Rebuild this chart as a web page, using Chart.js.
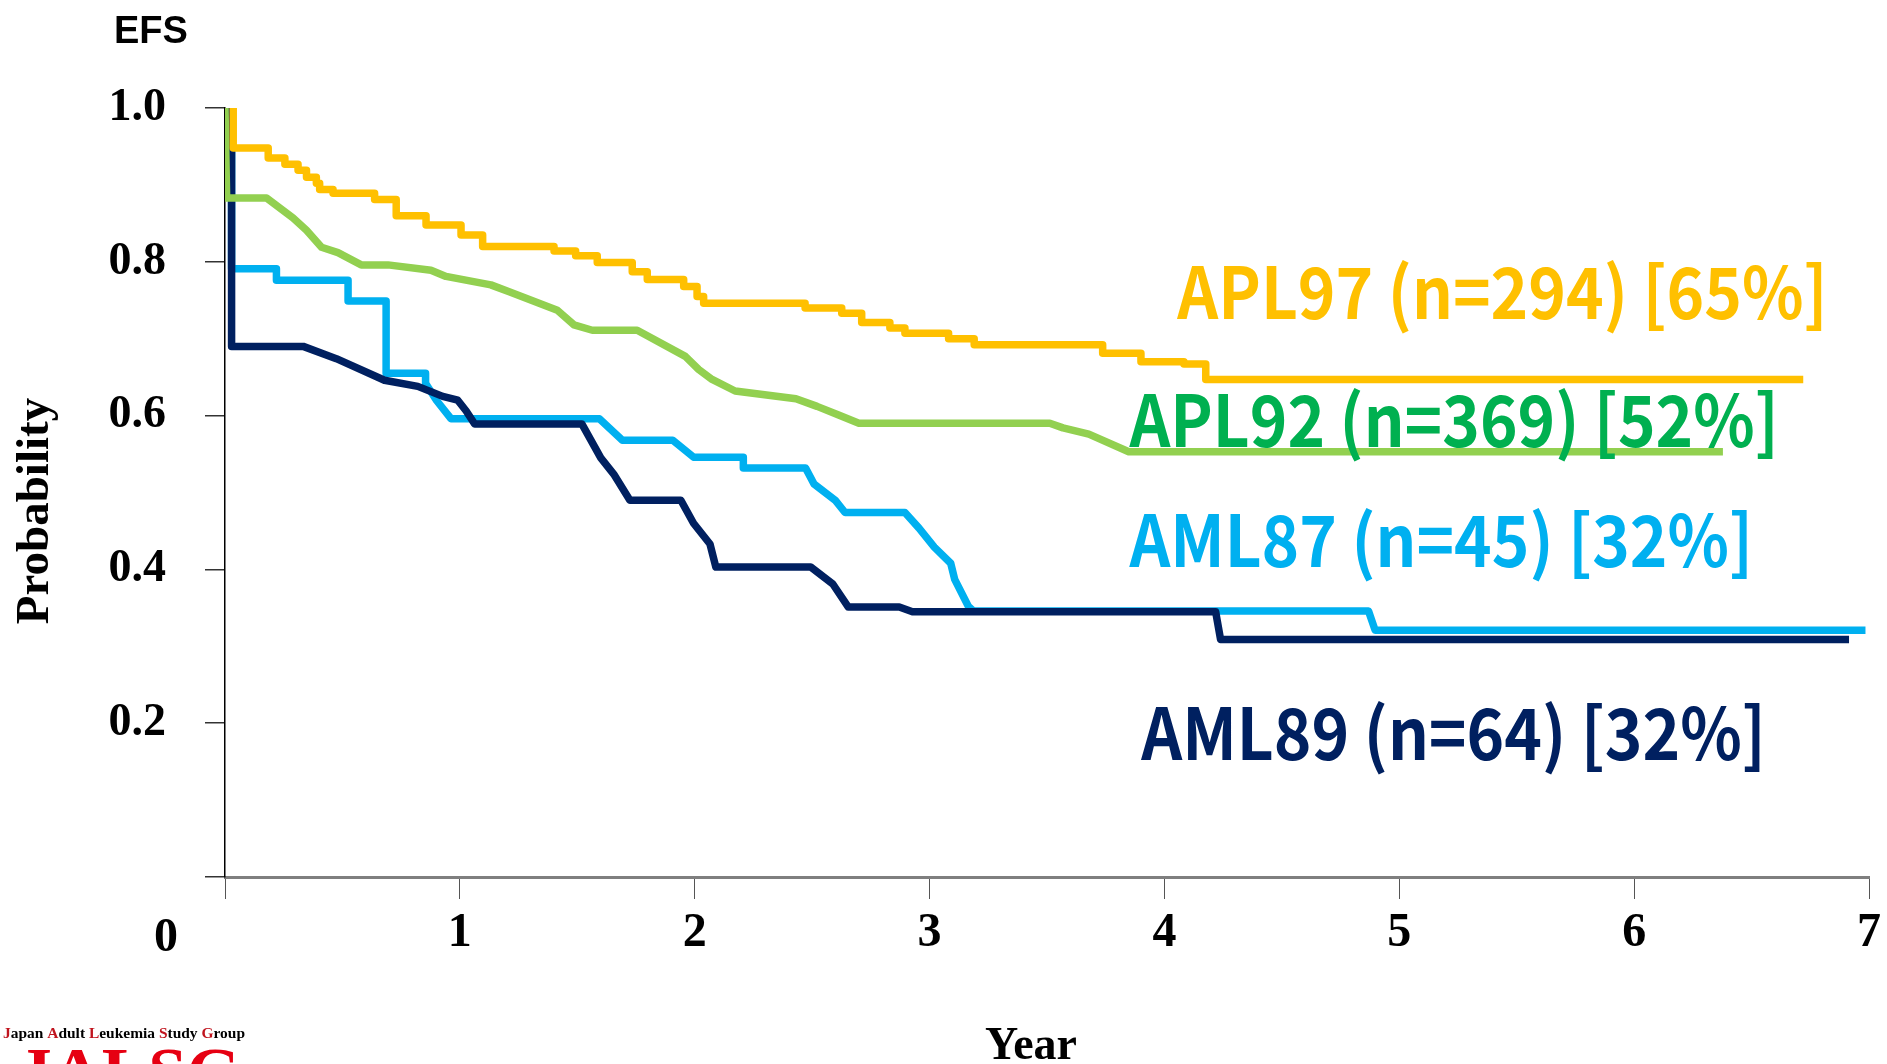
<!DOCTYPE html>
<html>
<head>
<meta charset="utf-8">
<script src="https://cdn.jsdelivr.net/npm/chart.js@4.4.1/dist/chart.umd.min.js"></script>
<style>
html,body{margin:0;padding:0;background:#fff;overflow:hidden}
#wrap{width:1887px;height:1064px;position:relative}
canvas{display:block}
</style>
</head>
<body>
<div id="wrap"><canvas id="c" width="1887" height="1064"></canvas></div>
<script>
// ---------- DATA ----------
const xTickValues = [0, 1, 2, 3, 4, 5, 6, 7];
const yTickValues = [0, 0.2, 0.4, 0.6, 0.8, 1.0];

const seriesNames = ['APL97', 'APL92', 'AML89', 'AML87'];
const seriesLabels = ['APL97 (n=294) [65%]', 'APL92 (n=369) [52%]', 'AML87 (n=45) [32%]', 'AML89 (n=64) [32%]'];

// APL97 (step function: value changes at each time)
const apl97Times  = [0.035, 0.035, 0.184, 0.255, 0.311, 0.347, 0.389, 0.403, 0.460, 0.637, 0.729, 0.856, 1.005, 1.097, 1.401, 1.493, 1.585, 1.734, 1.798, 1.953, 2.010, 2.038, 2.470, 2.626, 2.711, 2.831, 2.895, 3.081, 3.190, 3.737, 3.900, 4.083, 4.176, 4.508, 6.720];
const apl97Values = [1.000, 0.954, 0.948, 0.935, 0.927, 0.919, 0.910, 0.902, 0.894, 0.889, 0.881, 0.860, 0.848, 0.835, 0.820, 0.814, 0.808, 0.799, 0.787, 0.777, 0.768, 0.755, 0.746, 0.740, 0.733, 0.721, 0.714, 0.707, 0.700, 0.692, 0.681, 0.670, 0.667, 0.647, 0.647];

// APL92
const apl92Times  = [0, 0.007, 0.177, 0.290, 0.347, 0.411, 0.481, 0.580, 0.694, 0.877, 0.941, 1.132, 1.210, 1.415, 1.486, 1.564, 1.755, 1.960, 2.017, 2.074, 2.172, 2.431, 2.521, 2.610, 2.699, 3.512, 3.568, 3.678, 3.848, 6.378];
const apl92Values = [1.000, 0.883, 0.883, 0.857, 0.841, 0.819, 0.812, 0.796, 0.796, 0.789, 0.781, 0.770, 0.761, 0.737, 0.718, 0.711, 0.711, 0.677, 0.660, 0.647, 0.632, 0.622, 0.612, 0.601, 0.590, 0.590, 0.584, 0.576, 0.553, 0.553];

// AML89
const aml89Times  = [0.028, 0.028, 0.333, 0.474, 0.679, 0.821, 0.927, 0.991, 1.027, 1.063, 1.520, 1.600, 1.655, 1.724, 1.941, 1.995, 2.065, 2.090, 2.494, 2.588, 2.654, 2.871, 2.927, 4.218, 4.239, 6.915];
const aml89Values = [1.000, 0.690, 0.690, 0.674, 0.646, 0.638, 0.625, 0.620, 0.606, 0.589, 0.589, 0.545, 0.524, 0.490, 0.490, 0.460, 0.433, 0.403, 0.403, 0.381, 0.351, 0.351, 0.345, 0.345, 0.309, 0.309];

// AML87
const aml87Times  = [0.028, 0.028, 0.219, 0.219, 0.524, 0.524, 0.686, 0.686, 0.854, 0.854, 0.900, 0.962, 1.594, 1.692, 1.906, 1.995, 2.207, 2.207, 2.472, 2.508, 2.598, 2.640, 2.895, 2.954, 3.020, 3.090, 3.107, 3.165, 3.187, 4.869, 4.897, 6.985];
const aml87Values = [1.000, 0.791, 0.791, 0.776, 0.776, 0.749, 0.749, 0.655, 0.655, 0.642, 0.620, 0.596, 0.596, 0.568, 0.568, 0.546, 0.546, 0.532, 0.532, 0.511, 0.490, 0.474, 0.474, 0.454, 0.429, 0.408, 0.387, 0.352, 0.346, 0.346, 0.321, 0.321];

// ---------- STYLE / LAYOUT ----------
const colors = { APL97: '#FFC000', APL92: '#92D050', AML89: '#002060', AML87: '#00B0F0' };
const labelColors = ['#FFC000', '#00B050', '#00B0F0', '#002060'];
const serif = '"Liberation Serif", "Times New Roman", serif';
const cjk = '"Noto Sans CJK JP", "Noto Sans", sans-serif';

// label anchors in data units (left year, right year, baseline probability)
const labelLayout = [
  { start: 4.051, end: 6.798, base: 0.7256 },
  { start: 3.847, end: 6.590, base: 0.5592 },
  { start: 3.847, end: 6.480, base: 0.4031 },
  { start: 3.898, end: 6.535, base: 0.1521 }
];

function pts(ts, vs) { return ts.map((t, i) => ({ x: t, y: vs[i] })); }

function fitText(ctx, text, x0, x1, yBase) {
  const m = ctx.measureText(text);
  const ink = m.actualBoundingBoxLeft + m.actualBoundingBoxRight;
  const sx = (x1 - x0) / ink;
  ctx.save();
  ctx.translate(x0 + m.actualBoundingBoxLeft * sx, yBase);
  ctx.scale(sx, 1);
  ctx.fillText(text, 0, 0);
  ctx.restore();
}

const annot = {
  id: 'annot',
  afterDatasetsDraw(chart) {
    const { ctx, scales: { x, y } } = chart;
    ctx.save();
    ctx.textAlign = 'left';
    ctx.textBaseline = 'alphabetic';
    ctx.font = `bold 71px ${cjk}`;
    seriesLabels.forEach((txt, i) => {
      const L = labelLayout[i];
      ctx.fillStyle = labelColors[i];
      fitText(ctx, txt, x.getPixelForValue(L.start), x.getPixelForValue(L.end), y.getPixelForValue(L.base));
    });
    ctx.restore();
  },
  afterDraw(chart) {
    const { ctx, scales: { x, y } } = chart;
    ctx.save();
    ctx.fillStyle = '#000';
    // EFS
    ctx.font = 'bold 38px "Liberation Sans", Arial, sans-serif';
    ctx.textAlign = 'left';
    ctx.textBaseline = 'alphabetic';
    ctx.fillText('EFS', 114, 43);
    // "0" label for the origin
    ctx.font = `bold 48px ${serif}`;
    ctx.textAlign = 'center';
    ctx.fillText('0', x.getPixelForValue(0) - 59, 951);
    // Year
    ctx.font = `bold 46px ${serif}`;
    ctx.fillText('Year', 1031, 1059);
    // Probability
    ctx.save();
    ctx.translate(36, 511);
    ctx.rotate(-Math.PI / 2);
    ctx.font = `bold 47px ${serif}`;
    ctx.textBaseline = 'middle';
    ctx.fillText('Probability', 0, 0);
    ctx.restore();
    // JALSG logo text
    const red = '#C0141E';
    const parts = [['J', red], ['apan ', '#000'], ['A', red], ['dult ', '#000'], ['L', red], ['eukemia ', '#000'], ['S', red], ['tudy ', '#000'], ['G', red], ['roup', '#000']];
    ctx.font = `bold 15px ${serif}`;
    ctx.textAlign = 'left';
    ctx.textBaseline = 'alphabetic';
    const full = parts.map(p => p[0]).join('');
    const tw = ctx.measureText(full).width;
    const sx = 242 / tw;
    let cx = 3;
    parts.forEach(p => {
      ctx.fillStyle = p[1];
      ctx.save(); ctx.translate(cx, 1038); ctx.scale(sx, 1); ctx.fillText(p[0], 0, 0); ctx.restore();
      cx += ctx.measureText(p[0]).width * sx;
    });
    ctx.fillStyle = '#E60012';
    ctx.font = `bold 68px ${serif}`;
    fitText(ctx, 'JALSG', 20, 240, 1094);
    ctx.restore();
  }
};

const ds = (name, ts, vs, stepped) => ({
  label: name,
  data: pts(ts, vs),
  borderColor: colors[name],
  backgroundColor: colors[name],
  borderWidth: 7.5,
  pointRadius: 0,
  tension: 0,
  stepped: stepped ? 'after' : false,
  borderJoinStyle: 'round',
  borderCapStyle: 'butt',
  fill: false
});

new Chart(document.getElementById('c'), {
  type: 'line',
  data: {
    datasets: [
      ds('APL97', apl97Times, apl97Values, true),
      ds('APL92', apl92Times, apl92Values, false),
      ds('AML89', aml89Times, aml89Values, false),
      ds('AML87', aml87Times, aml87Values, false)
    ]
  },
  options: {
    responsive: false,
    animation: false,
    devicePixelRatio: 1,
    layout: { padding: { top: 108, right: 14, bottom: 0, left: 0 } },
    plugins: { legend: { display: false }, tooltip: { enabled: false }, title: { display: false } },
    scales: {
      x: {
        type: 'linear',
        min: 0, max: 7,
        afterFit(s) { s.height = 1064 - 877; },
        afterBuildTicks(s) { s.ticks = xTickValues.map(v => ({ value: v })); },
        border: { display: true, color: '#7F7F7F', width: 3 },
        grid: { display: true, drawOnChartArea: false, drawTicks: true, tickLength: 22, color: '#555', lineWidth: 1 },
        ticks: {
          padding: 6,
          color: '#000',
          font: { family: serif, weight: 'bold', size: 48 },
          maxRotation: 0,
          autoSkip: false,
          callback: v => (v === 0 ? '' : String(v))
        }
      },
      y: {
        type: 'linear',
        min: 0, max: 1,
        afterFit(s) { s.width = 225; },
        afterBuildTicks(s) { s.ticks = yTickValues.map(v => ({ value: v })); },
        border: { display: true, color: '#000', width: 1.5 },
        grid: { display: true, drawOnChartArea: false, drawTicks: true, tickLength: 20, color: '#333', lineWidth: 1.5 },
        ticks: {
          padding: 39,
          color: '#000',
          font: { family: serif, weight: 'bold', size: 46 },
          callback: v => (v === 0 ? '' : Number(v).toFixed(1))
        }
      }
    }
  },
  plugins: [annot]
});
</script>
</body>
</html>
